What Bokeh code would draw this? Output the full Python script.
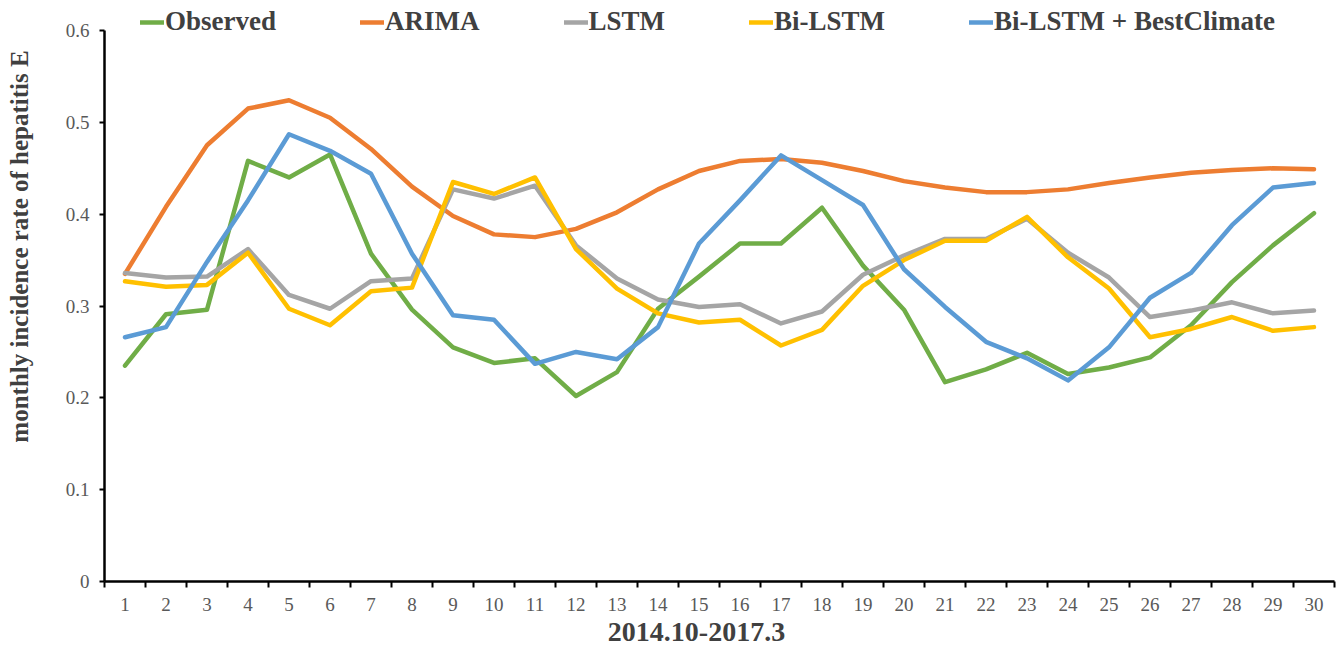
import math
from bokeh.plotting import figure
from bokeh.models import (Range1d, FixedTicker, CustomJSTickFormatter, Legend,
                          LegendItem, Label)
from bokeh.embed import file_html
from bokeh.resources import INLINE

months = list(range(1, 31))

observed = [0.235, 0.291, 0.296, 0.458, 0.440, 0.465, 0.357, 0.296, 0.255, 0.238,
            0.243, 0.202, 0.228, 0.297, 0.332, 0.368, 0.368, 0.407, 0.344, 0.296,
            0.217, 0.231, 0.249, 0.226, 0.233, 0.244, 0.279, 0.326, 0.366, 0.401]
arima = [0.335, 0.408, 0.475, 0.515, 0.524, 0.505, 0.471, 0.430, 0.398, 0.378,
         0.375, 0.384, 0.402, 0.427, 0.447, 0.458, 0.460, 0.456, 0.447, 0.436,
         0.429, 0.424, 0.424, 0.427, 0.434, 0.440, 0.445, 0.448, 0.450, 0.449]
lstm = [0.336, 0.331, 0.332, 0.362, 0.312, 0.297, 0.327, 0.330, 0.427, 0.417,
        0.431, 0.366, 0.330, 0.307, 0.299, 0.302, 0.281, 0.294, 0.334, 0.355,
        0.373, 0.373, 0.395, 0.358, 0.331, 0.288, 0.295, 0.304, 0.292, 0.295]
bilstm = [0.327, 0.321, 0.323, 0.358, 0.297, 0.279, 0.316, 0.320, 0.435, 0.422,
          0.440, 0.362, 0.319, 0.292, 0.282, 0.285, 0.257, 0.274, 0.322, 0.350,
          0.371, 0.371, 0.397, 0.353, 0.319, 0.266, 0.275, 0.288, 0.273, 0.277]
bilstm_bc = [0.266, 0.277, 0.348, 0.415, 0.487, 0.469, 0.444, 0.357, 0.290, 0.285,
             0.237, 0.250, 0.242, 0.277, 0.368, 0.415, 0.464, 0.437, 0.410, 0.340,
             0.299, 0.261, 0.243, 0.219, 0.255, 0.309, 0.336, 0.388, 0.429, 0.434]

series_names = ["Observed", "ARIMA", "LSTM", "Bi-LSTM", "Bi-LSTM + BestClimate"]
series_colors = ["#70AD47", "#ED7D31", "#A5A5A5", "#FFC000", "#5B9BD5"]
series_values = [observed, arima, lstm, bilstm, bilstm_bc]

y_ticks = [0, 0.1, 0.2, 0.3, 0.4, 0.5, 0.6]

x_title = "2014.10-2017.3"
y_title = "monthly incidence rate of hepatitis E"

FONT = "Liberation Serif"
TEXT = "#404040"
TICK = "#595959"

W, H = 1336, 648
# The frame fills the whole figure; the axes are pinned at x=0.5 / y=0 so that
# the titles and the legend can be placed freely (nothing is clipped).
LEFT, RIGHT, TOP, BOTTOM = 104, 1334, 30, 581
x_lo, x_hi = 0.5, 30.5
px_x = (RIGHT - LEFT) / (x_hi - x_lo)
y_lo, y_hi = 0.0, 0.6
px_y = (BOTTOM - TOP) / (y_hi - y_lo)

p = figure(width=W, height=H, output_backend="svg", toolbar_location=None,
           x_range=Range1d(x_lo - LEFT / px_x, x_hi + (W - RIGHT) / px_x),
           y_range=Range1d(y_lo - (H - BOTTOM) / px_y, y_hi + TOP / px_y),
           min_border=0)
p.outline_line_color = None
p.xgrid.grid_line_color = None
p.ygrid.grid_line_color = None

items = []
for name, color, vals in zip(series_names, series_colors, series_values):
    r = p.line(months, vals, line_color=color, line_width=4.5,
               line_join="round", line_cap="round")
    items.append(LegendItem(label=name, renderers=[r]))

# x axis: labels at category centres, ticks on the boundaries
xa = p.xaxis[0]
xa.fixed_location = y_lo
xa.bounds = (x_lo, x_hi)
xa.ticker = FixedTicker(ticks=months,
                        minor_ticks=[m - 0.5 for m in months] + [months[-1] + 0.5])
xa.major_tick_line_color = None
xa.minor_tick_line_color = "black"
xa.minor_tick_line_width = 2
xa.minor_tick_out = 6
xa.minor_tick_in = 0
xa.axis_line_color = "black"
xa.axis_line_width = 2.5
xa.major_label_text_font = FONT
xa.major_label_text_font_size = "19px"
xa.major_label_text_color = TICK
xa.major_label_standoff = 10

ya = p.yaxis[0]
ya.fixed_location = x_lo
ya.bounds = (y_lo, y_hi)
ya.ticker = FixedTicker(ticks=y_ticks, minor_ticks=[])
ya.formatter = CustomJSTickFormatter(code="return tick.toFixed(1).replace(/\\.0$/, '');")
ya.major_tick_line_color = "black"
ya.major_tick_line_width = 2
ya.major_tick_out = 5
ya.major_tick_in = 0
ya.minor_tick_line_color = None
ya.axis_line_color = "black"
ya.axis_line_width = 2.5
ya.major_label_text_font = FONT
ya.major_label_text_font_size = "19px"
ya.major_label_text_color = TICK
ya.major_label_standoff = 10

p.add_layout(Label(x=19, y=H - 246, x_units="screen", y_units="screen",
                   text=y_title, angle=math.pi / 2, text_align="center",
                   text_baseline="middle", text_font=FONT, text_font_size="25px",
                   text_font_style="bold", text_color=TEXT))
p.add_layout(Label(x=696, y=17, x_units="screen", y_units="screen",
                   text=x_title, text_align="center", text_baseline="middle",
                   text_font=FONT, text_font_size="28px",
                   text_font_style="bold", text_color=TEXT))

legend = Legend(items=items, orientation="horizontal", location=(140, H - 37),
                label_text_font=FONT, label_text_font_size="27px",
                label_text_font_style="bold", label_text_color=TEXT,
                glyph_width=24, glyph_height=18, label_height=18,
                label_standoff=1, spacing=84, padding=0, margin=0,
                background_fill_alpha=0, border_line_color=None)
p.add_layout(legend, "center")

open("out.html", "w").write(file_html(p, INLINE))
